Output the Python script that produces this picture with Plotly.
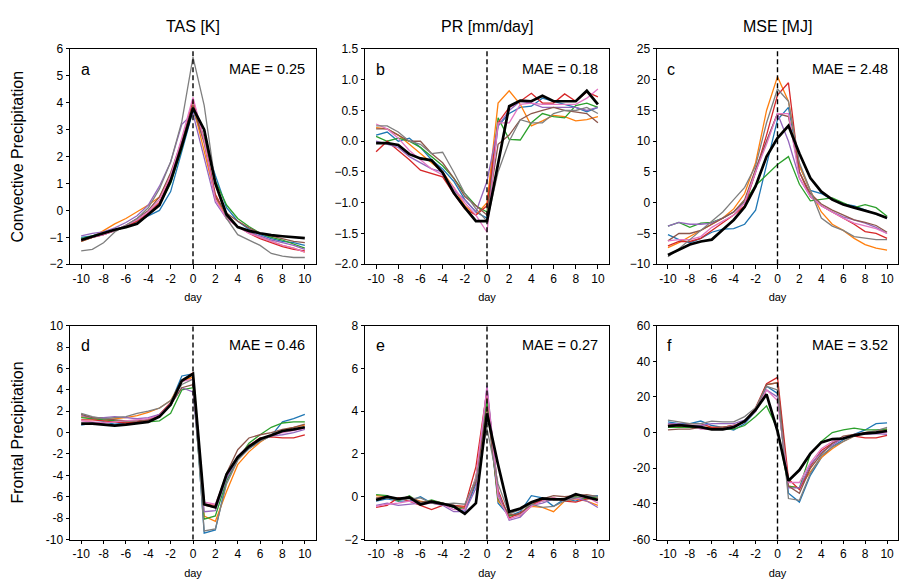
import plotly.graph_objects as go

days = list(range(-10, 11))
model_colors = ["#1f77b4", "#ff7f0e", "#2ca02c", "#d62728", "#9467bd", "#8c564b", "#e377c2", "#7f7f7f"]
col_titles = ["TAS [K]", "PR [mm/day]", "MSE [MJ]"]
row_titles = ["Convective Precipitation", "Frontal Precipitation"]
panel_letters = ["a", "b", "c", "d", "e", "f"]
mae_values = ["0.25", "0.18", "2.48", "0.46", "0.27", "3.52"]

# ---- panel a: TAS, convective ----
a_obs = [-1.1, -0.97, -0.85, -0.72, -0.62, -0.5, -0.15, 0.2, 1.1, 2.4, 3.8, 3.0, 1.0, -0.15, -0.62, -0.76, -0.85, -0.92, -0.96, -1.0, -1.03]
a_models = [
    [-1.0, -0.95, -0.8, -0.7, -0.6, -0.45, -0.2, 0.0, 0.7, 2.2, 3.7, 2.6, 1.3, 0.1, -0.4, -0.7, -0.9, -1.05, -1.15, -1.2, -1.3],
    [-1.15, -1.0, -0.75, -0.5, -0.3, -0.05, 0.2, 0.5, 1.3, 2.5, 3.9, 2.2, 0.5, -0.3, -0.6, -0.8, -1.0, -1.15, -1.3, -1.4, -1.55],
    [-1.05, -0.95, -0.85, -0.75, -0.6, -0.4, -0.15, 0.2, 1.0, 2.3, 3.9, 2.7, 1.1, 0.2, -0.3, -0.6, -0.85, -1.0, -1.1, -1.25, -1.4],
    [-1.1, -1.0, -0.9, -0.75, -0.6, -0.4, -0.1, 0.3, 1.2, 2.5, 4.1, 2.6, 0.6, -0.2, -0.6, -0.85, -1.05, -1.2, -1.35, -1.45, -1.5],
    [-0.95, -0.85, -0.8, -0.65, -0.45, -0.2, 0.2, 0.9, 1.8, 3.2, 3.6, 1.9, 0.3, -0.3, -0.6, -0.8, -0.95, -1.1, -1.2, -1.3, -1.45],
    [-1.15, -1.0, -0.9, -0.75, -0.55, -0.3, 0.0, 0.5, 1.4, 2.6, 3.9, 2.5, 0.5, -0.1, -0.4, -0.65, -0.85, -0.95, -1.05, -1.15, -1.2],
    [-1.1, -1.0, -0.9, -0.75, -0.55, -0.35, -0.05, 0.4, 1.3, 2.7, 4.2, 2.6, 0.4, -0.3, -0.6, -0.85, -1.0, -1.15, -1.3, -1.4, -1.55],
    [-1.5, -1.45, -1.2, -0.8, -0.55, -0.3, 0.1, 0.8, 1.8, 3.3, 5.7, 3.9, 1.0, -0.3, -0.9, -1.1, -1.3, -1.6, -1.7, -1.75, -1.75],
]

# ---- panel b: PR, convective ----
b_obs = [-0.03, -0.03, -0.06, -0.21, -0.28, -0.31, -0.51, -0.84, -1.08, -1.3, -1.3, -0.38, 0.57, 0.66, 0.65, 0.74, 0.65, 0.65, 0.65, 0.82, 0.6]
b_models = [
    [0.1, 0.15, 0.0, 0.05, -0.1, -0.3, -0.45, -0.65, -0.95, -1.15, -1.25, 0.25, 0.45, 0.55, 0.57, 0.7, 0.65, 0.6, 0.55, 0.48, 0.55],
    [0.22, 0.2, 0.1, -0.05, -0.2, -0.35, -0.5, -0.75, -1.05, -1.2, -1.0, 0.62, 0.82, 0.6, 0.25, 0.33, 0.42, 0.4, 0.33, 0.35, 0.4],
    [0.08, 0.0, 0.05, 0.0, -0.1, -0.25, -0.4, -0.6, -0.85, -1.05, -1.15, 0.38, 0.03, 0.02, 0.3, 0.45, 0.4, 0.38, 0.58, 0.62, 0.55],
    [-0.17, 0.0, -0.15, -0.3, -0.47, -0.53, -0.58, -0.85, -1.1, -1.2, -1.05, 0.3, 0.55, 0.65, 0.78, 0.62, 0.62, 0.77, 0.65, 0.8, 0.72],
    [0.0, -0.05, -0.1, -0.25, -0.35, -0.45, -0.5, -0.8, -0.95, -1.15, -0.65, 0.25, 0.5, 0.65, 0.62, 0.55, 0.55, 0.55, 0.55, 0.5, 0.55],
    [0.2, 0.2, 0.1, 0.0, 0.0, -0.2, -0.35, -0.6, -0.9, -1.05, -1.2, -0.05, 0.1, 0.35, 0.45, 0.5, 0.55, 0.5, 0.48, 0.45, 0.3],
    [0.28, 0.2, 0.05, -0.15, -0.3, -0.45, -0.55, -0.75, -1.0, -1.2, -1.48, 0.3, 0.3, 0.6, 0.62, 0.6, 0.6, 0.6, 0.6, 0.7, 0.85],
    [0.25, 0.25, 0.15, 0.0, -0.05, -0.2, -0.18, -0.5, -0.85, -1.1, -1.3, -0.5, 0.0, 0.35, 0.3, 0.3, 0.45, 0.5, 0.5, 0.55, 0.45],
]

# ---- panel c: MSE, convective ----
c_obs = [-8.5, -7.6, -6.8, -6.3, -6.0, -4.4, -2.8, -0.7, 2.7, 7.5, 10.5, 12.5, 8.0, 4.0, 1.8, 0.5, -0.3, -0.8, -1.3, -1.8, -2.5]
c_models = [
    [-5.2, -6.0, -6.5, -5.8, -4.8, -4.3, -4.2, -3.5, -1.2, 6.0, 13.5, 15.5, 6.0, 2.0, 1.5, 0.5, -0.2, -0.5, -1.2, -1.8, -2.5],
    [-7.3, -6.5, -5.5, -4.5, -3.5, -2.5, -1.0, 1.5, 6.5, 15.0, 20.5, 16.5, 6.0, 2.0, -1.5, -3.5, -4.5, -5.8, -6.8, -7.4, -7.7],
    [-3.8, -3.2, -4.0, -3.3, -3.2, -2.5, -1.5, 0.2, 2.8, 4.5, 6.2, 7.5, 3.0, 0.3, 0.5, 0.8, 0.0, -0.8, -0.3, -0.8, -2.2],
    [-7.0, -6.3, -6.3, -5.8, -4.5, -3.2, -2.0, -0.5, 5.0, 11.0, 17.5, 19.5, 5.0, 1.0, -0.5, -1.5, -2.5, -3.5, -4.7, -5.0, -5.8],
    [-3.8, -3.2, -3.5, -3.5, -3.3, -2.5, -1.5, 0.0, 5.0, 10.0, 14.5, 10.0, 4.0, 1.0, -0.5, -1.5, -2.3, -2.8, -3.3, -4.0, -5.0],
    [-6.2, -5.0, -5.0, -4.5, -3.5, -2.5, -1.5, 0.5, 5.5, 10.0, 14.5, 14.0, 5.0, 1.5, -0.2, -1.2, -2.0, -2.8, -3.2, -3.7, -4.8],
    [-6.2, -6.0, -6.0, -5.5, -4.0, -3.0, -2.0, 0.0, 5.0, 9.5, 14.5, 14.5, 4.0, 1.0, -0.5, -1.5, -2.5, -3.3, -3.7, -4.2, -5.0],
    [-8.8, -7.5, -6.0, -4.5, -3.0, -1.5, 0.5, 2.5, 6.0, 13.0, 18.5, 16.5, 6.5, 2.0, -2.5, -3.8, -4.5, -5.5, -5.8, -6.0, -6.0],
]

# ---- panel d: TAS, frontal ----
d_obs = [0.85, 0.85, 0.75, 0.65, 0.75, 0.85, 1.0, 1.5, 2.6, 4.85, 5.5, -6.7, -7.0, -3.9, -2.3, -1.3, -0.6, -0.25, 0.15, 0.3, 0.5]
d_models = [
    [0.7, 0.9, 1.0, 0.8, 0.9, 1.0, 1.2, 1.6, 2.8, 5.3, 5.5, -9.4, -9.1, -4.5, -2.5, -1.5, -0.8, -0.3, 1.0, 1.3, 1.7],
    [1.5, 1.3, 1.2, 1.3, 1.4, 1.6, 1.9, 2.3, 3.0, 4.8, 5.2, -7.8, -8.3, -5.5, -3.0, -1.8, -0.9, -0.2, 0.2, 0.5, 0.7],
    [1.4, 1.3, 1.2, 1.1, 1.0, 0.9, 1.0, 1.1, 1.8, 4.0, 4.2, -8.1, -7.8, -4.5, -2.5, -1.0, -0.2, 0.5, 0.9, 1.0, 1.0],
    [1.2, 1.2, 1.1, 1.0, 0.9, 1.0, 1.2, 1.7, 2.8, 4.8, 5.6, -6.7, -6.8, -4.0, -2.3, -1.2, -0.5, -0.4, -0.5, -0.5, -0.2],
    [1.6, 1.4, 1.4, 1.5, 1.4, 1.3, 1.4, 1.7, 2.6, 4.2, 3.8, -7.4, -7.3, -4.3, -2.4, -1.3, -0.7, -0.3, -0.2, 0.0, 0.3],
    [1.7, 1.4, 1.3, 1.2, 1.1, 1.1, 1.2, 1.6, 2.6, 4.2, 4.5, -6.8, -7.0, -3.8, -1.6, -0.5, -0.2, 0.0, 0.3, 0.5, 0.8],
    [1.1, 1.0, 0.9, 1.0, 1.1, 1.2, 1.3, 1.6, 2.7, 4.8, 5.0, -6.5, -6.7, -4.0, -2.2, -1.2, -0.6, -0.2, 0.0, 0.2, 0.4],
    [1.8, 1.5, 1.3, 1.4, 1.5, 1.8, 2.0, 2.3, 3.0, 4.5, 5.0, -9.2, -9.0, -4.8, -2.6, -1.5, -0.8, -0.3, 0.1, 0.3, 0.5],
]

# ---- panel e: PR, frontal ----
e_obs = [-0.15, 0.0, -0.1, -0.03, -0.36, -0.23, -0.33, -0.45, -0.8, -0.3, 3.9, 1.5, -0.7, -0.55, -0.26, -0.08, -0.12, -0.12, 0.12, 0.0, -0.15]
e_models = [
    [-0.2, -0.1, -0.2, -0.2, 0.0, -0.3, -0.3, -0.5, -0.7, 0.6, 4.6, -0.3, -0.9, -0.7, 0.05, -0.05, -0.45, -0.1, -0.2, 0.0, 0.05],
    [0.05, 0.0, -0.1, -0.05, -0.2, -0.3, -0.35, -0.45, -0.5, 0.8, 4.8, -0.2, -0.8, -0.9, -0.45, -0.5, -0.7, -0.2, -0.1, -0.2, -0.4],
    [0.1, 0.05, -0.2, 0.05, -0.3, -0.15, -0.3, -0.5, -0.6, 0.9, 4.5, -0.1, -0.9, -0.8, -0.3, -0.2, -0.1, -0.1, 0.0, -0.1, 0.0],
    [-0.5, -0.4, -0.05, -0.2, -0.4, -0.6, -0.4, -0.4, -0.45, 1.4, 5.0, 0.3, -1.0, -0.75, -0.4, -0.15, -0.05, -0.2, -0.25, -0.1, -0.1],
    [-0.4, -0.3, -0.4, -0.35, -0.3, -0.3, -0.4, -0.7, -0.7, 0.4, 5.2, 0.2, -1.1, -0.95, -0.4, -0.3, -0.1, -0.1, -0.05, -0.2, -0.5],
    [-0.05, 0.0, -0.1, 0.0, -0.25, -0.2, -0.3, -0.4, -0.55, 0.7, 4.2, 0.0, -0.85, -0.8, -0.35, -0.1, 0.05, 0.0, 0.05, 0.1, 0.0],
    [-0.45, -0.35, -0.3, -0.2, -0.35, -0.3, -0.35, -0.6, -0.6, 0.9, 5.1, 0.0, -1.05, -0.85, -0.45, -0.2, -0.05, -0.15, -0.1, 0.0, -0.3],
    [-0.1, -0.05, -0.15, -0.1, -0.05, -0.3, -0.35, -0.3, -0.35, 0.8, 3.2, 0.6, -0.8, -0.6, -0.35, -0.5, -0.45, -0.2, -0.05, 0.05, 0.0],
]

# ---- panel f: MSE, frontal ----
f_obs = [3.6, 4.2, 3.6, 3.1, 1.8, 1.8, 3.1, 6.4, 12.7, 21.5, 0.9, -27.0, -21.0, -11.8, -5.5, -3.6, -3.3, -1.5, -0.4, 0.0, 0.9]
f_models = [
    [6, 5, 5, 6.5, 4, 3, 1.5, 5, 12, 26, 22, -34, -39, -24, -14, -8, -4, -1, 1.5, 5, 5.5],
    [4, 3.5, 3, 3, 3, 3, 4, 6, 13, 27, 28, -30, -31, -22, -14, -9, -5, -2, 0, 1, 2],
    [3, 3, 3, 2.5, 2, 2, 2, 4, 9, 15, 2, -30, -31, -12, -5, 0, 1.5, 2.5, 1.5, 1.5, 2],
    [5, 4, 5, 5, 3, 3, 4, 6, 14, 27.5, 31, -26, -32, -19, -10, -6, -3, -2, -3, -3, -1.5],
    [5, 5, 4, 4, 5, 5, 5, 7, 12, 24, 20, -31, -31, -18, -11, -7, -3, -1, -1, -0.5, -1],
    [1.5, 2, 2, 3, 2, 3, 4, 6, 13, 27, 28, -30, -34, -20, -12, -6, -2, -1, 0, 0.5, 1],
    [4, 4, 4, 2, 2, 2, 4, 6, 12, 24, 18, -28, -28, -17, -9, -5, -3, -1.5, -0.5, 0, 0],
    [7, 6, 5, 5, 6.5, 6, 6, 9, 14, 26, 24, -37, -38, -23, -13, -8, -5, -2, 0, 1, 3],
]

panel_obs = [a_obs, b_obs, c_obs, d_obs, e_obs, f_obs]
panel_models = [a_models, b_models, c_models, d_models, e_models, f_models]

# y axis ticks per panel
y_ranges = [[-2, 6], [-2.0, 1.5], [-10, 25], [-10, 10], [-2, 8], [-60, 60]]
y_tickvals = [
    [-2, -1, 0, 1, 2, 3, 4, 5, 6],
    [-2.0, -1.5, -1.0, -0.5, 0.0, 0.5, 1.0, 1.5],
    [-10, -5, 0, 5, 10, 15, 20, 25],
    [-10, -8, -6, -4, -2, 0, 2, 4, 6, 8, 10],
    [-2, 0, 2, 4, 6, 8],
    [-60, -40, -20, 0, 20, 40, 60],
]
y_ticktext = [
    ["\u22122", "\u22121", "0", "1", "2", "3", "4", "5", "6"],
    ["\u22122.0", "\u22121.5", "\u22121.0", "\u22120.5", "0.0", "0.5", "1.0", "1.5"],
    ["\u221210", "\u22125", "0", "5", "10", "15", "20", "25"],
    ["-10", "-8", "-6", "-4", "-2", "0", "2", "4", "6", "8", "10"],
    ["\u22122", "0", "2", "4", "6", "8"],
    ["-60", "-40", "-20", "0", "20", "40", "60"],
]
x_tickvals = [-10, -8, -6, -4, -2, 0, 2, 4, 6, 8, 10]
x_ticktext = ["-10", "-8", "-6", "-4", "-2", "0", "2", "4", "6", "8", "10"]

W, H = 900, 588
col_px = [(70, 316), (365, 609), (657, 898)]
row_px = [(43, 263.5), (326.5, 545.5)]

FONT = "Liberation Sans, Arial, sans-serif"

fig = go.Figure()
layout = dict(
    width=W, height=H,
    margin=dict(l=0, r=0, t=0, b=0),
    paper_bgcolor="white", plot_bgcolor="white",
    showlegend=False,
    font=dict(family=FONT, size=12, color="black"),
)
annotations = []
shapes = []

for p in range(6):
    r, c = divmod(p, 3)
    idx = "" if p == 0 else str(p + 1)
    xa, ya = "x" + idx, "y" + idx
    for m, series in enumerate(panel_models[p]):
        fig.add_trace(go.Scatter(x=days, y=series, mode="lines", xaxis=xa, yaxis=ya,
                                 line=dict(color=model_colors[m], width=1.3), hoverinfo="skip"))
    fig.add_trace(go.Scatter(x=days, y=panel_obs[p], mode="lines", xaxis=xa, yaxis=ya,
                             line=dict(color="black", width=2.7), hoverinfo="skip"))
    x0, x1 = col_px[c]
    y0, y1 = row_px[r]
    axis_common = dict(showline=True, mirror=True, linecolor="black", linewidth=1,
                       ticks="outside", ticklen=3.5, tickwidth=0.8, tickcolor="black",
                       showgrid=False, zeroline=False,
                       tickfont=dict(family=FONT, size=12, color="black"))
    layout["xaxis" + idx] = dict(axis_common, domain=[x0 / W, x1 / W], range=[-11, 11],
                                 tickvals=x_tickvals, ticktext=x_ticktext, anchor=ya,
                                 title=dict(text="day", font=dict(family=FONT, size=11), standoff=8))
    layout["yaxis" + idx] = dict(axis_common, domain=[1 - y1 / H, 1 - y0 / H], range=y_ranges[p],
                                 tickvals=y_tickvals[p], ticktext=y_ticktext[p], anchor=xa)
    # dashed vertical line at day 0
    shapes.append(dict(type="line", xref=xa, yref=ya + " domain", x0=0, x1=0, y0=0, y1=1,
                       line=dict(color="black", width=1.4, dash="5px,3px")))
    annotations.append(dict(text=panel_letters[p], xref=xa + " domain", yref=ya + " domain",
                            x=0.035, y=0.955, xanchor="left", yanchor="top", showarrow=False,
                            font=dict(family=FONT, size=16, color="black")))
    annotations.append(dict(text="MAE = " + mae_values[p], xref=xa + " domain", yref=ya + " domain",
                            x=0.965, y=0.955, xanchor="right", yanchor="top", showarrow=False,
                            font=dict(family=FONT, size=14.5, color="black")))

for c in range(3):
    x0, x1 = col_px[c]
    annotations.append(dict(text=col_titles[c], xref="paper", yref="paper",
                            x=(x0 + x1) / 2 / W, y=1 - 20 / H, xanchor="center", yanchor="middle",
                            showarrow=False, font=dict(family=FONT, size=16, color="black")))
for r in range(2):
    y0, y1 = row_px[r]
    annotations.append(dict(text=row_titles[r], xref="paper", yref="paper",
                            x=18 / W, y=1 - (y0 + y1) / 2 / H, xanchor="center", yanchor="middle",
                            textangle=-90, showarrow=False, font=dict(family=FONT, size=16, color="black")))

layout["annotations"] = annotations
layout["shapes"] = shapes
fig.update_layout(**layout)
fig.write_html("out.html")
